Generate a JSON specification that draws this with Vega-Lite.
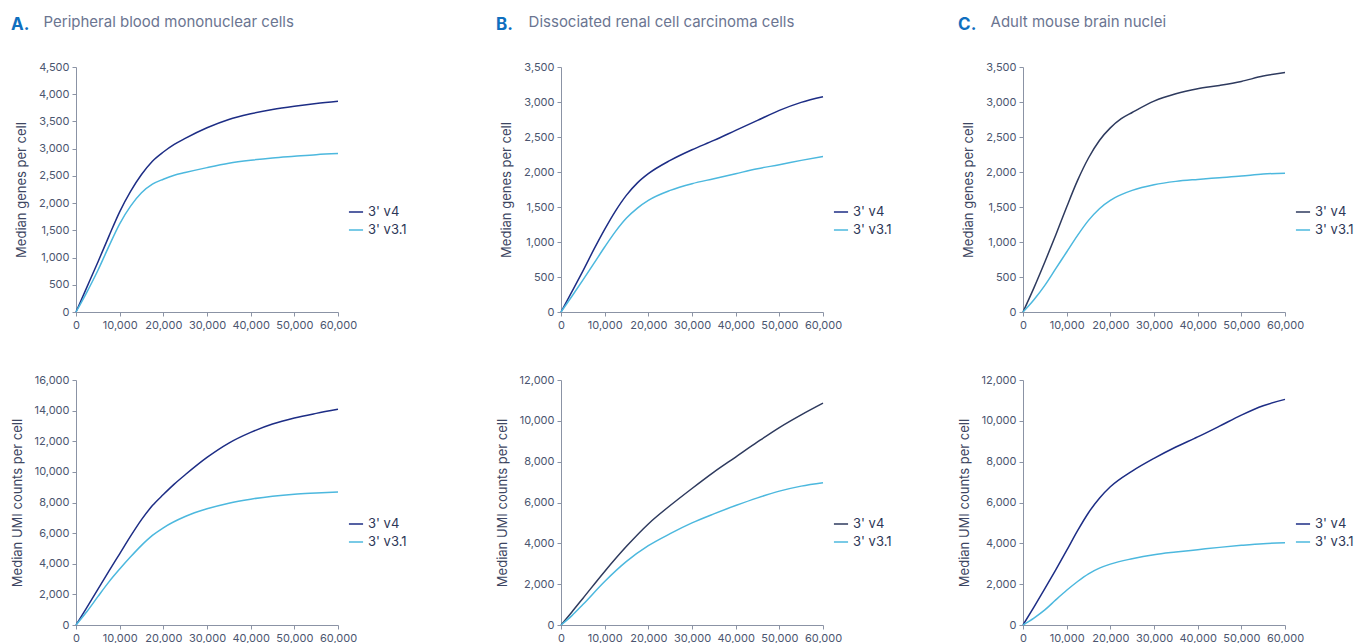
{
  "$schema": "https://vega.github.io/schema/vega-lite/v6.json",
  "padding": {"left": 11, "top": 15, "right": 0, "bottom": 0},
  "background": "white",
  "config": {
    "font": "Inter",
    "view": {"stroke": null},
    "axis": {"grid": false, "labelFont": "Inter", "labelFontSize": 11, "labelColor": "#4b556f", "titleFont": "Inter", "titleFontSize": 13, "titleFontWeight": "normal", "titleColor": "#3d4662", "domainColor": "#8b93a5", "tickColor": "#8b93a5", "tickSize": 4, "labelPadding": 3, "format": ",.0f", "labelOverlap": false, "labelFlush": false},
    "axisY": {"titlePadding": 10},
    "legend": {"labelFont": "Inter", "labelFontSize": 13, "labelColor": "#2d3757", "symbolType": "stroke", "symbolStrokeWidth": 1.5, "symbolSize": 200, "rowPadding": 3, "title": null},
    "line": {"interpolate": "monotone", "strokeWidth": 1.5}
  },
  "datasets": {
    "a_genes": [
      {"reads": 0, "value": 0, "chem": "3' v4"}, {"reads": 2500, "value": 457, "chem": "3' v4"}, {"reads": 5000, "value": 915, "chem": "3' v4"}, {"reads": 7500, "value": 1385, "chem": "3' v4"}, {"reads": 10000, "value": 1840, "chem": "3' v4"}, {"reads": 12500, "value": 2215, "chem": "3' v4"}, {"reads": 15000, "value": 2525, "chem": "3' v4"}, {"reads": 17500, "value": 2770, "chem": "3' v4"}, {"reads": 20000, "value": 2939, "chem": "3' v4"}, {"reads": 22500, "value": 3079, "chem": "3' v4"}, {"reads": 25000, "value": 3189, "chem": "3' v4"}, {"reads": 30000, "value": 3384, "chem": "3' v4"}, {"reads": 35000, "value": 3537, "chem": "3' v4"}, {"reads": 40000, "value": 3640, "chem": "3' v4"}, {"reads": 45000, "value": 3720, "chem": "3' v4"}, {"reads": 50000, "value": 3780, "chem": "3' v4"}, {"reads": 55000, "value": 3829, "chem": "3' v4"}, {"reads": 60000, "value": 3870, "chem": "3' v4"},
      {"reads": 0, "value": 0, "chem": "3' v3.1"}, {"reads": 2500, "value": 366, "chem": "3' v3.1"}, {"reads": 5000, "value": 762, "chem": "3' v3.1"}, {"reads": 7500, "value": 1201, "chem": "3' v3.1"}, {"reads": 10000, "value": 1620, "chem": "3' v3.1"}, {"reads": 12500, "value": 1945, "chem": "3' v3.1"}, {"reads": 15000, "value": 2190, "chem": "3' v3.1"}, {"reads": 17500, "value": 2348, "chem": "3' v3.1"}, {"reads": 20000, "value": 2439, "chem": "3' v3.1"}, {"reads": 22500, "value": 2512, "chem": "3' v3.1"}, {"reads": 25000, "value": 2561, "chem": "3' v3.1"}, {"reads": 30000, "value": 2652, "chem": "3' v3.1"}, {"reads": 35000, "value": 2732, "chem": "3' v3.1"}, {"reads": 40000, "value": 2787, "chem": "3' v3.1"}, {"reads": 45000, "value": 2829, "chem": "3' v3.1"}, {"reads": 50000, "value": 2860, "chem": "3' v3.1"}, {"reads": 55000, "value": 2890, "chem": "3' v3.1"}, {"reads": 60000, "value": 2909, "chem": "3' v3.1"}
    ],
    "a_umi": [
      {"reads": 0, "value": 0, "chem": "3' v4"}, {"reads": 2500, "value": 1150, "chem": "3' v4"}, {"reads": 5000, "value": 2330, "chem": "3' v4"}, {"reads": 7500, "value": 3500, "chem": "3' v4"}, {"reads": 10000, "value": 4650, "chem": "3' v4"}, {"reads": 12500, "value": 5800, "chem": "3' v4"}, {"reads": 15000, "value": 6880, "chem": "3' v4"}, {"reads": 17500, "value": 7800, "chem": "3' v4"}, {"reads": 20000, "value": 8520, "chem": "3' v4"}, {"reads": 22500, "value": 9200, "chem": "3' v4"}, {"reads": 25000, "value": 9810, "chem": "3' v4"}, {"reads": 30000, "value": 10944, "chem": "3' v4"}, {"reads": 35000, "value": 11881, "chem": "3' v4"}, {"reads": 40000, "value": 12579, "chem": "3' v4"}, {"reads": 45000, "value": 13124, "chem": "3' v4"}, {"reads": 50000, "value": 13516, "chem": "3' v4"}, {"reads": 55000, "value": 13820, "chem": "3' v4"}, {"reads": 60000, "value": 14090, "chem": "3' v4"},
      {"reads": 0, "value": 0, "chem": "3' v3.1"}, {"reads": 2500, "value": 880, "chem": "3' v3.1"}, {"reads": 5000, "value": 1850, "chem": "3' v3.1"}, {"reads": 7500, "value": 2800, "chem": "3' v3.1"}, {"reads": 10000, "value": 3650, "chem": "3' v3.1"}, {"reads": 12500, "value": 4450, "chem": "3' v3.1"}, {"reads": 15000, "value": 5200, "chem": "3' v3.1"}, {"reads": 17500, "value": 5850, "chem": "3' v3.1"}, {"reads": 20000, "value": 6350, "chem": "3' v3.1"}, {"reads": 25000, "value": 7085, "chem": "3' v3.1"}, {"reads": 30000, "value": 7586, "chem": "3' v3.1"}, {"reads": 35000, "value": 7957, "chem": "3' v3.1"}, {"reads": 40000, "value": 8219, "chem": "3' v3.1"}, {"reads": 45000, "value": 8415, "chem": "3' v3.1"}, {"reads": 50000, "value": 8546, "chem": "3' v3.1"}, {"reads": 55000, "value": 8620, "chem": "3' v3.1"}, {"reads": 60000, "value": 8686, "chem": "3' v3.1"}
    ],
    "b_genes": [
      {"reads": 0, "value": 0, "chem": "3' v4"}, {"reads": 2500, "value": 290, "chem": "3' v4"}, {"reads": 5000, "value": 585, "chem": "3' v4"}, {"reads": 7500, "value": 890, "chem": "3' v4"}, {"reads": 10000, "value": 1180, "chem": "3' v4"}, {"reads": 12500, "value": 1445, "chem": "3' v4"}, {"reads": 15000, "value": 1670, "chem": "3' v4"}, {"reads": 17500, "value": 1845, "chem": "3' v4"}, {"reads": 20000, "value": 1976, "chem": "3' v4"}, {"reads": 25000, "value": 2166, "chem": "3' v4"}, {"reads": 30000, "value": 2318, "chem": "3' v4"}, {"reads": 35000, "value": 2451, "chem": "3' v4"}, {"reads": 40000, "value": 2594, "chem": "3' v4"}, {"reads": 45000, "value": 2737, "chem": "3' v4"}, {"reads": 50000, "value": 2880, "chem": "3' v4"}, {"reads": 55000, "value": 2995, "chem": "3' v4"}, {"reads": 60000, "value": 3075, "chem": "3' v4"},
      {"reads": 0, "value": 0, "chem": "3' v3.1"}, {"reads": 2500, "value": 225, "chem": "3' v3.1"}, {"reads": 5000, "value": 455, "chem": "3' v3.1"}, {"reads": 7500, "value": 690, "chem": "3' v3.1"}, {"reads": 10000, "value": 928, "chem": "3' v3.1"}, {"reads": 12500, "value": 1152, "chem": "3' v3.1"}, {"reads": 15000, "value": 1342, "chem": "3' v3.1"}, {"reads": 17500, "value": 1485, "chem": "3' v3.1"}, {"reads": 20000, "value": 1595, "chem": "3' v3.1"}, {"reads": 25000, "value": 1737, "chem": "3' v3.1"}, {"reads": 30000, "value": 1833, "chem": "3' v3.1"}, {"reads": 35000, "value": 1904, "chem": "3' v3.1"}, {"reads": 40000, "value": 1976, "chem": "3' v3.1"}, {"reads": 45000, "value": 2047, "chem": "3' v3.1"}, {"reads": 50000, "value": 2104, "chem": "3' v3.1"}, {"reads": 55000, "value": 2166, "chem": "3' v3.1"}, {"reads": 60000, "value": 2223, "chem": "3' v3.1"}
    ],
    "b_umi": [
      {"reads": 0, "value": 0, "chem": "3' v4"}, {"reads": 2500, "value": 640, "chem": "3' v4"}, {"reads": 5000, "value": 1300, "chem": "3' v4"}, {"reads": 10000, "value": 2622, "chem": "3' v4"}, {"reads": 15000, "value": 3852, "chem": "3' v4"}, {"reads": 20000, "value": 4950, "chem": "3' v4"}, {"reads": 25000, "value": 5851, "chem": "3' v4"}, {"reads": 30000, "value": 6687, "chem": "3' v4"}, {"reads": 35000, "value": 7490, "chem": "3' v4"}, {"reads": 40000, "value": 8228, "chem": "3' v4"}, {"reads": 45000, "value": 8965, "chem": "3' v4"}, {"reads": 50000, "value": 9670, "chem": "3' v4"}, {"reads": 55000, "value": 10293, "chem": "3' v4"}, {"reads": 60000, "value": 10867, "chem": "3' v4"},
      {"reads": 0, "value": 0, "chem": "3' v3.1"}, {"reads": 2500, "value": 460, "chem": "3' v3.1"}, {"reads": 5000, "value": 1000, "chem": "3' v3.1"}, {"reads": 10000, "value": 2131, "chem": "3' v3.1"}, {"reads": 15000, "value": 3114, "chem": "3' v3.1"}, {"reads": 20000, "value": 3884, "chem": "3' v3.1"}, {"reads": 25000, "value": 4474, "chem": "3' v3.1"}, {"reads": 30000, "value": 4999, "chem": "3' v3.1"}, {"reads": 35000, "value": 5441, "chem": "3' v3.1"}, {"reads": 40000, "value": 5851, "chem": "3' v3.1"}, {"reads": 45000, "value": 6228, "chem": "3' v3.1"}, {"reads": 50000, "value": 6556, "chem": "3' v3.1"}, {"reads": 55000, "value": 6802, "chem": "3' v3.1"}, {"reads": 60000, "value": 6970, "chem": "3' v3.1"}
    ],
    "c_genes": [
      {"reads": 0, "value": 0, "chem": "3' v4"}, {"reads": 2500, "value": 345, "chem": "3' v4"}, {"reads": 5000, "value": 714, "chem": "3' v4"}, {"reads": 7500, "value": 1100, "chem": "3' v4"}, {"reads": 10000, "value": 1500, "chem": "3' v4"}, {"reads": 12500, "value": 1880, "chem": "3' v4"}, {"reads": 15000, "value": 2200, "chem": "3' v4"}, {"reads": 17500, "value": 2450, "chem": "3' v4"}, {"reads": 20000, "value": 2630, "chem": "3' v4"}, {"reads": 22500, "value": 2761, "chem": "3' v4"}, {"reads": 25000, "value": 2850, "chem": "3' v4"}, {"reads": 30000, "value": 3013, "chem": "3' v4"}, {"reads": 35000, "value": 3118, "chem": "3' v4"}, {"reads": 40000, "value": 3189, "chem": "3' v4"}, {"reads": 45000, "value": 3237, "chem": "3' v4"}, {"reads": 50000, "value": 3294, "chem": "3' v4"}, {"reads": 55000, "value": 3370, "chem": "3' v4"}, {"reads": 60000, "value": 3420, "chem": "3' v4"},
      {"reads": 0, "value": 0, "chem": "3' v3.1"}, {"reads": 2500, "value": 175, "chem": "3' v3.1"}, {"reads": 5000, "value": 381, "chem": "3' v3.1"}, {"reads": 7500, "value": 619, "chem": "3' v3.1"}, {"reads": 10000, "value": 857, "chem": "3' v3.1"}, {"reads": 12500, "value": 1095, "chem": "3' v3.1"}, {"reads": 15000, "value": 1309, "chem": "3' v3.1"}, {"reads": 17500, "value": 1476, "chem": "3' v3.1"}, {"reads": 20000, "value": 1595, "chem": "3' v3.1"}, {"reads": 22500, "value": 1676, "chem": "3' v3.1"}, {"reads": 25000, "value": 1737, "chem": "3' v3.1"}, {"reads": 30000, "value": 1818, "chem": "3' v3.1"}, {"reads": 35000, "value": 1866, "chem": "3' v3.1"}, {"reads": 40000, "value": 1894, "chem": "3' v3.1"}, {"reads": 45000, "value": 1918, "chem": "3' v3.1"}, {"reads": 50000, "value": 1942, "chem": "3' v3.1"}, {"reads": 55000, "value": 1972, "chem": "3' v3.1"}, {"reads": 60000, "value": 1982, "chem": "3' v3.1"}
    ],
    "c_umi": [
      {"reads": 0, "value": 0, "chem": "3' v4"}, {"reads": 2500, "value": 880, "chem": "3' v4"}, {"reads": 5000, "value": 1780, "chem": "3' v4"}, {"reads": 7500, "value": 2700, "chem": "3' v4"}, {"reads": 10000, "value": 3650, "chem": "3' v4"}, {"reads": 12500, "value": 4620, "chem": "3' v4"}, {"reads": 15000, "value": 5500, "chem": "3' v4"}, {"reads": 17500, "value": 6210, "chem": "3' v4"}, {"reads": 20000, "value": 6770, "chem": "3' v4"}, {"reads": 25000, "value": 7539, "chem": "3' v4"}, {"reads": 30000, "value": 8162, "chem": "3' v4"}, {"reads": 35000, "value": 8720, "chem": "3' v4"}, {"reads": 40000, "value": 9211, "chem": "3' v4"}, {"reads": 45000, "value": 9740, "chem": "3' v4"}, {"reads": 50000, "value": 10280, "chem": "3' v4"}, {"reads": 55000, "value": 10740, "chem": "3' v4"}, {"reads": 60000, "value": 11050, "chem": "3' v4"},
      {"reads": 0, "value": 0, "chem": "3' v3.1"}, {"reads": 2500, "value": 340, "chem": "3' v3.1"}, {"reads": 5000, "value": 740, "chem": "3' v3.1"}, {"reads": 7500, "value": 1229, "chem": "3' v3.1"}, {"reads": 10000, "value": 1700, "chem": "3' v3.1"}, {"reads": 12500, "value": 2131, "chem": "3' v3.1"}, {"reads": 15000, "value": 2508, "chem": "3' v3.1"}, {"reads": 17500, "value": 2786, "chem": "3' v3.1"}, {"reads": 20000, "value": 2983, "chem": "3' v3.1"}, {"reads": 25000, "value": 3245, "chem": "3' v3.1"}, {"reads": 30000, "value": 3442, "chem": "3' v3.1"}, {"reads": 35000, "value": 3573, "chem": "3' v3.1"}, {"reads": 40000, "value": 3688, "chem": "3' v3.1"}, {"reads": 45000, "value": 3802, "chem": "3' v3.1"}, {"reads": 50000, "value": 3901, "chem": "3' v3.1"}, {"reads": 55000, "value": 3983, "chem": "3' v3.1"}, {"reads": 60000, "value": 4025, "chem": "3' v3.1"}
    ]
  },
  "resolve": {"scale": {"color": "independent"}, "legend": {"color": "independent"}},
  "spacing": 66,
  "hconcat": [
    {
      "spacing": 89,
      "resolve": {"scale": {"color": "independent"}, "legend": {"color": "independent"}},
      "hconcat": [
        {
          "title": {"text": "A.", "anchor": "start", "fontSize": 17, "fontWeight": "bold", "color": "#0f6fbf", "font": "Inter", "offset": 0, "dy": 19},
          "spacing": 44,
          "resolve": {"scale": {"color": "independent"}, "legend": {"color": "independent"}},
          "vconcat": [
            {
              "title": {"text": "Peripheral blood mononuclear cells", "anchor": "start", "dx": 28, "fontSize": 15, "fontWeight": "normal", "color": "#6b7591", "font": "Inter", "offset": 31},
              "width": 262, "height": 245,
              "data": {"name": "a_genes"},
              "mark": {"type": "line"},
              "encoding": {
                "x": {"field": "reads", "type": "quantitative", "scale": {"domain": [0, 60000], "nice": false}, "axis": {"values": [0, 10000, 20000, 30000, 40000, 50000, 60000], "title": null}},
                "y": {"field": "value", "type": "quantitative", "scale": {"domain": [0, 4500], "nice": false}, "axis": {"values": [0, 500, 1000, 1500, 2000, 2500, 3000, 3500, 4000, 4500], "title": "Median genes per cell"}},
                "color": {"field": "chem", "type": "nominal", "scale": {"domain": ["3' v4", "3' v3.1"], "range": ["#1d2d85", "#4cb8de"]}, "legend": {"orient": "none", "legendX": 272, "legendY": 137}}
              }
            },
            {
              "width": 262, "height": 245,
              "data": {"name": "a_umi"},
              "mark": {"type": "line"},
              "encoding": {
                "x": {"field": "reads", "type": "quantitative", "scale": {"domain": [0, 60000], "nice": false}, "axis": {"values": [0, 10000, 20000, 30000, 40000, 50000, 60000], "title": null}},
                "y": {"field": "value", "type": "quantitative", "scale": {"domain": [0, 16000], "nice": false}, "axis": {"values": [0, 2000, 4000, 6000, 8000, 10000, 12000, 14000, 16000], "title": "Median UMI counts per cell"}},
                "color": {"field": "chem", "type": "nominal", "scale": {"domain": ["3' v4", "3' v3.1"], "range": ["#1d2d85", "#4cb8de"]}, "legend": {"orient": "none", "legendX": 272, "legendY": 136}}
              }
            }
          ]
        },
        {
          "title": {"text": "B.", "anchor": "start", "fontSize": 17, "fontWeight": "bold", "color": "#0f6fbf", "font": "Inter", "offset": 0, "dy": 19},
          "spacing": 44,
          "resolve": {"scale": {"color": "independent"}, "legend": {"color": "independent"}},
          "vconcat": [
            {
              "title": {"text": "Dissociated renal cell carcinoma cells", "anchor": "start", "dx": 28, "fontSize": 15, "fontWeight": "normal", "color": "#6b7591", "font": "Inter", "offset": 31},
              "width": 262, "height": 245,
              "data": {"name": "b_genes"},
              "mark": {"type": "line"},
              "encoding": {
                "x": {"field": "reads", "type": "quantitative", "scale": {"domain": [0, 60000], "nice": false}, "axis": {"values": [0, 10000, 20000, 30000, 40000, 50000, 60000], "title": null}},
                "y": {"field": "value", "type": "quantitative", "scale": {"domain": [0, 3500], "nice": false}, "axis": {"values": [0, 500, 1000, 1500, 2000, 2500, 3000, 3500], "title": "Median genes per cell"}},
                "color": {"field": "chem", "type": "nominal", "scale": {"domain": ["3' v4", "3' v3.1"], "range": ["#1d2d85", "#4cb8de"]}, "legend": {"orient": "none", "legendX": 272, "legendY": 137}}
              }
            },
            {
              "width": 262, "height": 245,
              "data": {"name": "b_umi"},
              "mark": {"type": "line"},
              "encoding": {
                "x": {"field": "reads", "type": "quantitative", "scale": {"domain": [0, 60000], "nice": false}, "axis": {"values": [0, 10000, 20000, 30000, 40000, 50000, 60000], "title": null}},
                "y": {"field": "value", "type": "quantitative", "scale": {"domain": [0, 12000], "nice": false}, "axis": {"values": [0, 2000, 4000, 6000, 8000, 10000, 12000], "title": "Median UMI counts per cell"}},
                "color": {"field": "chem", "type": "nominal", "scale": {"domain": ["3' v4", "3' v3.1"], "range": ["#2e3a5e", "#4cb8de"]}, "legend": {"orient": "none", "legendX": 272, "legendY": 136}}
              }
            }
          ]
        }
      ]
    },
    {
      "title": {"text": "C.", "anchor": "start", "fontSize": 17, "fontWeight": "bold", "color": "#0f6fbf", "font": "Inter", "offset": 0, "dy": 19},
      "spacing": 44,
      "resolve": {"scale": {"color": "independent"}, "legend": {"color": "independent"}},
      "vconcat": [
        {
          "title": {"text": "Adult mouse brain nuclei", "anchor": "start", "dx": 28, "fontSize": 15, "fontWeight": "normal", "color": "#6b7591", "font": "Inter", "offset": 31},
          "width": 262, "height": 245,
          "data": {"name": "c_genes"},
          "mark": {"type": "line"},
          "encoding": {
            "x": {"field": "reads", "type": "quantitative", "scale": {"domain": [0, 60000], "nice": false}, "axis": {"values": [0, 10000, 20000, 30000, 40000, 50000, 60000], "title": null}},
            "y": {"field": "value", "type": "quantitative", "scale": {"domain": [0, 3500], "nice": false}, "axis": {"values": [0, 500, 1000, 1500, 2000, 2500, 3000, 3500], "title": "Median genes per cell"}},
            "color": {"field": "chem", "type": "nominal", "scale": {"domain": ["3' v4", "3' v3.1"], "range": ["#2e3a5e", "#4cb8de"]}, "legend": {"orient": "none", "legendX": 272, "legendY": 137}}
          }
        },
        {
          "width": 262, "height": 245,
          "data": {"name": "c_umi"},
          "mark": {"type": "line"},
          "encoding": {
            "x": {"field": "reads", "type": "quantitative", "scale": {"domain": [0, 60000], "nice": false}, "axis": {"values": [0, 10000, 20000, 30000, 40000, 50000, 60000], "title": null}},
            "y": {"field": "value", "type": "quantitative", "scale": {"domain": [0, 12000], "nice": false}, "axis": {"values": [0, 2000, 4000, 6000, 8000, 10000, 12000], "title": "Median UMI counts per cell"}},
            "color": {"field": "chem", "type": "nominal", "scale": {"domain": ["3' v4", "3' v3.1"], "range": ["#1d2d85", "#4cb8de"]}, "legend": {"orient": "none", "legendX": 272, "legendY": 136}}
          }
        }
      ]
    }
  ]
}
